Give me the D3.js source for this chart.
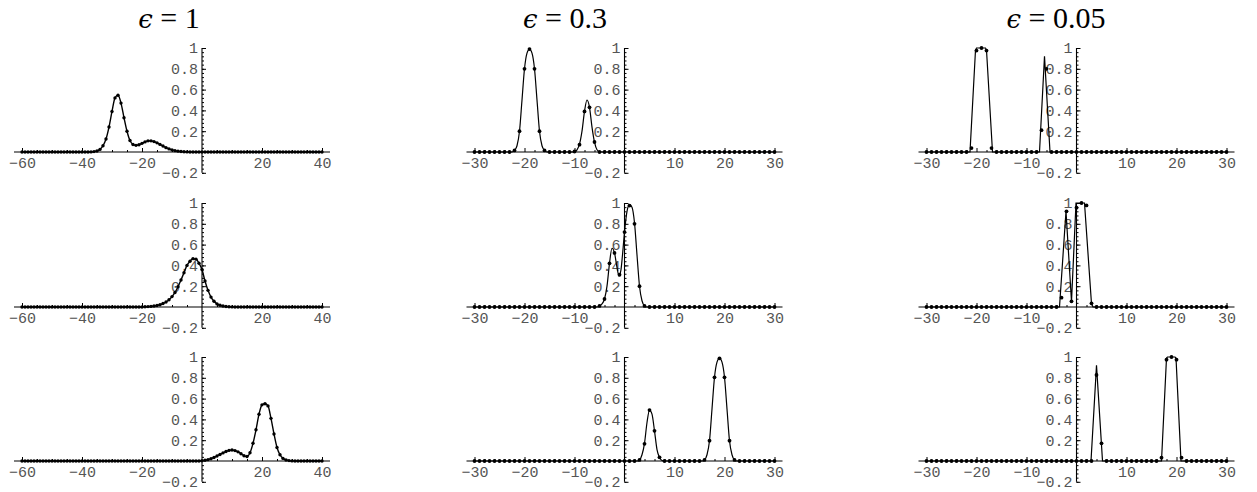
<!DOCTYPE html>
<html>
<head>
<meta charset="utf-8">
<script src="https://cdn.jsdelivr.net/npm/d3@7"></script>
<style>
  body { margin: 0; background: #fff; }
  .tick text { font-family: "Liberation Mono", monospace; font-size: 15px; fill: #555; }
  .title { font-family: "Liberation Serif", serif; font-size: 30px; fill: #000; }
</style>
</head>
<body>
<div id="chart"></div>
<script>
// ---------- data ----------
var epsilons = ["1", "0.3", "0.05"];
var xTicksWide = [-60, -40, -20, 20, 40];
var xTicksNarrow = [-30, -20, -10, 10, 20, 30];
var yTickValues = [-0.2, 0.2, 0.4, 0.6, 0.8, 1];

// dots sit on a unit grid: eps = 1 from x = -60, the others from x = -30
var gridStartWide = -60;
var gridStartNarrow = -30;

var dotsE1Top = [
  0, 0, 0, 0, 0, 0, 0, 0, 0, 0,
  0, 0, 0, 0, 0, 0, 0, 0, 0, 0,
  0, 0, 0, 0.001, 0.004, 0.01, 0.025, 0.06, 0.125, 0.24,
  0.39, 0.52, 0.545, 0.47, 0.33, 0.2, 0.11, 0.072, 0.064, 0.07,
  0.083, 0.097, 0.107, 0.107, 0.1, 0.088, 0.073, 0.057, 0.042, 0.03,
  0.02, 0.013, 0.008, 0.005, 0.003, 0.001, 0, 0, 0, 0,
  0, 0, 0, 0, 0, 0, 0, 0, 0, 0,
  0, 0, 0, 0, 0, 0, 0, 0, 0, 0,
  0, 0, 0, 0, 0, 0, 0, 0, 0, 0,
  0, 0, 0, 0, 0, 0, 0, 0, 0, 0,
  0
];
var dotsE1Mid = [
  0, 0, 0, 0, 0, 0, 0, 0, 0, 0,
  0, 0, 0, 0, 0, 0, 0, 0, 0, 0,
  0, 0, 0, 0, 0, 0, 0, 0, 0, 0,
  0, 0, 0, 0, 0, 0, 0, 0, 0, 0,
  0, 0.002, 0.004, 0.006, 0.01, 0.015, 0.022, 0.033, 0.048, 0.07,
  0.1, 0.14, 0.195, 0.26, 0.33, 0.4, 0.44, 0.465, 0.46, 0.42,
  0.36, 0.25, 0.16, 0.095, 0.055, 0.03, 0.017, 0.009, 0.005, 0.003,
  0.001, 0, 0, 0, 0, 0, 0, 0, 0, 0,
  0, 0, 0, 0, 0, 0, 0, 0, 0, 0,
  0, 0, 0, 0, 0, 0, 0, 0, 0, 0,
  0
];
var dotsE1Bot = [
  0, 0, 0, 0, 0, 0, 0, 0, 0, 0,
  0, 0, 0, 0, 0, 0, 0, 0, 0, 0,
  0, 0, 0, 0, 0, 0, 0, 0, 0, 0,
  0, 0, 0, 0, 0, 0, 0, 0, 0, 0,
  0, 0, 0, 0, 0, 0, 0, 0, 0, 0,
  0, 0, 0, 0, 0, 0, 0, 0, 0, 0,
  0.003, 0.007, 0.013, 0.022, 0.034, 0.048, 0.063, 0.078, 0.092, 0.102,
  0.106, 0.1, 0.088, 0.07, 0.05, 0.043, 0.08, 0.17, 0.3, 0.45,
  0.54, 0.55, 0.53, 0.41, 0.26, 0.13, 0.06, 0.025, 0.01, 0.004,
  0.001, 0, 0, 0, 0, 0, 0, 0, 0, 0,
  0
];

var dotsE03Top = [
  0, 0, 0, 0, 0, 0, 0, 0, 0.015, 0.2,
  0.8, 0.99, 0.8, 0.2, 0.015, 0, 0, 0, 0, 0,
  0.005, 0.07, 0.39, 0.43, 0.096, 0, 0, 0, 0, 0,
  0, 0, 0, 0, 0, 0, 0, 0, 0, 0,
  0, 0, 0, 0, 0, 0, 0, 0, 0, 0,
  0, 0, 0, 0, 0, 0, 0, 0, 0, 0,
  0
];
var dotsE03Mid = [
  0, 0, 0, 0, 0, 0, 0, 0, 0, 0,
  0, 0, 0, 0, 0, 0, 0, 0, 0, 0,
  0, 0, 0, 0, 0, 0.01, 0.077, 0.42, 0.52, 0.31,
  0.72, 0.975, 0.8, 0.2, 0.01, 0, 0, 0, 0, 0,
  0, 0, 0, 0, 0, 0, 0, 0, 0, 0,
  0, 0, 0, 0, 0, 0, 0, 0, 0, 0,
  0
];
var dotsE03Bot = [
  0, 0, 0, 0, 0, 0, 0, 0, 0, 0,
  0, 0, 0, 0, 0, 0, 0, 0, 0, 0,
  0, 0, 0, 0, 0, 0, 0, 0, 0, 0,
  0, 0, 0, 0.01, 0.165, 0.49, 0.29, 0.035, 0, 0,
  0, 0, 0, 0, 0, 0, 0.01, 0.195, 0.805, 0.987,
  0.805, 0.195, 0.01, 0, 0, 0, 0, 0, 0, 0,
  0
];

var dotsE005Top = [
  0, 0, 0, 0, 0, 0, 0, 0, 0, 0.038,
  0.975, 1, 0.975, 0.038, 0, 0, 0, 0, 0, 0,
  0, 0, 0, 0.21, 0.8, 0, 0, 0, 0, 0,
  0, 0, 0, 0, 0, 0, 0, 0, 0, 0,
  0, 0, 0, 0, 0, 0, 0, 0, 0, 0,
  0, 0, 0, 0, 0, 0, 0, 0, 0, 0,
  0
];
var dotsE005Mid = [
  0, 0, 0, 0, 0, 0, 0, 0, 0, 0,
  0, 0, 0, 0, 0, 0, 0, 0, 0, 0,
  0, 0, 0, 0, 0, 0, 0, 0.09, 0.92, 0.055,
  0.955, 1, 0.977, 0.035, 0, 0, 0, 0, 0, 0,
  0, 0, 0, 0, 0, 0, 0, 0, 0, 0,
  0, 0, 0, 0, 0, 0, 0, 0, 0, 0,
  0
];
var dotsE005Bot = [
  0, 0, 0, 0, 0, 0, 0, 0, 0, 0,
  0, 0, 0, 0, 0, 0, 0, 0, 0, 0,
  0, 0, 0, 0, 0, 0, 0, 0, 0, 0,
  0, 0, 0, 0, 0.827, 0.17, 0, 0, 0, 0,
  0, 0, 0, 0, 0, 0, 0, 0.032, 0.974, 1,
  0.974, 0.032, 0, 0, 0, 0, 0, 0, 0, 0,
  0
];

// continuous curves (x, u) for eps = 0.3 and eps = 0.05
var lineE03Top = [[-30, 0], [-22.5, 0], [-22, 0.015], [-21.5, 0.06], [-21, 0.2], [-20.5, 0.5],
  [-20, 0.8], [-19.5, 0.95], [-19, 0.99], [-18.5, 0.95], [-18, 0.8], [-17.5, 0.5], [-17, 0.2],
  [-16.5, 0.06], [-16, 0.015], [-15.5, 0], [-10, 0], [-9.5, 0.02], [-9, 0.075], [-8.5, 0.2],
  [-8, 0.39], [-7.5, 0.5], [-7, 0.43], [-6.5, 0.24], [-6, 0.095], [-5.5, 0.022], [-5, 0.003],
  [-4.5, 0], [30, 0]];
var lineE03Mid = [[-30, 0], [-5.5, 0], [-5, 0.01], [-4.5, 0.03], [-4, 0.077], [-3.5, 0.2],
  [-3, 0.42], [-2.5, 0.565], [-2, 0.52], [-1.5, 0.38], [-1.1, 0.3], [-0.7, 0.36], [-0.4, 0.5],
  [0, 0.72], [0.5, 0.92], [1, 0.985], [1.5, 0.96], [2, 0.81], [2.5, 0.5], [3, 0.2],
  [3.5, 0.06], [4, 0.01], [4.5, 0], [30, 0]];
var lineE03Bot = [[-30, 0], [2.5, 0], [3, 0.01], [3.5, 0.06], [4, 0.17], [4.5, 0.37], [5, 0.49],
  [5.5, 0.45], [6, 0.29], [6.5, 0.11], [7, 0.035], [7.5, 0.005], [8, 0], [15.5, 0], [16, 0.01],
  [16.5, 0.06], [17, 0.195], [17.5, 0.5], [18, 0.805], [18.5, 0.95], [19, 0.99], [19.5, 0.95],
  [20, 0.805], [20.5, 0.5], [21, 0.195], [21.5, 0.06], [22, 0.01], [22.5, 0], [30, 0]];

var lineE005Top = [[-30, 0], [-21.3, 0], [-20.2, 0.98], [-20, 1], [-18.2, 1], [-18, 0.98],
  [-16.8, 0], [-7.4, 0], [-6.4, 0.92], [-5.3, 0], [30, 0]];
var lineE005Mid = [[-30, 0], [-3.4, 0], [-2.1, 0.92], [-1, 0.05], [-0.1, 1], [1.6, 1],
  [3, 0.03], [3.3, 0], [30, 0]];
var lineE005Bot = [[-30, 0], [2.9, 0], [4, 0.92], [5.2, 0], [17, 0], [18, 0.99], [18.2, 1],
  [19.7, 1], [19.9, 0.99], [20.9, 0], [30, 0]];

// ---------- layout ----------
var width = 1257;
var height = 492;
var colZeroX = [202, 624.5, 1076.5];
var colUnit = [3, 5, 5];
var titleX = [169, 565, 1056];
var rowZeroY = [152, 307, 461];
var yUnit = 104;

var columns = [
  { eps: epsilons[0], domain: [-60, 40], ticks: xTicksWide, minorStep: 5, start: gridStartWide,
    dots: [dotsE1Top, dotsE1Mid, dotsE1Bot], lines: null, curve: d3.curveMonotoneX, r: 1.7, lw: 1.4 },
  { eps: epsilons[1], domain: [-30, 30], ticks: xTicksNarrow, minorStep: 2, start: gridStartNarrow,
    dots: [dotsE03Top, dotsE03Mid, dotsE03Bot], lines: [lineE03Top, lineE03Mid, lineE03Bot],
    curve: d3.curveMonotoneX, r: 1.9, lw: 1.2 },
  { eps: epsilons[2], domain: [-30, 30], ticks: xTicksNarrow, minorStep: 2, start: gridStartNarrow,
    dots: [dotsE005Top, dotsE005Mid, dotsE005Bot], lines: [lineE005Top, lineE005Mid, lineE005Bot],
    curve: d3.curveLinear, r: 1.9, lw: 1.2 }
];

var svg = d3
  .select("#chart")
  .append("svg")
  .attr("width", width)
  .attr("height", height);

svg.append("rect").attr("width", width).attr("height", height).attr("fill", "#fff");

function fmt(d) {
  return String(d).replace("-", "\u2212");
}

columns.forEach(function(col, c) {
  // column title
  var title = svg
    .append("text")
    .attr("class", "title")
    .attr("x", titleX[c])
    .attr("y", 28)
    .attr("text-anchor", "middle");
  title
    .append("tspan")
    .style("font-family", "'DejaVu Serif', serif")
    .style("font-style", "italic")
    .style("font-size", "26px")
    .text("\u03f5");
  title.append("tspan").text(" = " + col.eps);

  var xScale = d3
    .scaleLinear()
    .domain(col.domain)
    .range([colZeroX[c] + col.domain[0] * colUnit[c], colZeroX[c] + col.domain[1] * colUnit[c]]);

  var xMinor = d3.range(col.domain[0], col.domain[1] + 0.001, col.minorStep).filter(function(v) {
    return v !== 0 && col.ticks.indexOf(v) < 0;
  });

  rowZeroY.forEach(function(y0, r) {
    var yScale = d3
      .scaleLinear()
      .domain([-0.2, 1])
      .range([y0 + 0.2 * yUnit, y0 - yUnit]);

    var panel = svg.append("g");

    // x axis (ticks pointing up, labels below)
    var xAxis = panel
      .append("g")
      .attr("transform", "translate(0," + y0 + ")");
    xAxis
      .append("line")
      .attr("x1", xScale(col.domain[0]) - 8)
      .attr("x2", xScale(col.domain[1]) + 8)
      .attr("stroke", "#000")
      .attr("stroke-width", 1.1);
    xAxis
      .append("g")
      .call(d3.axisBottom(xScale).tickValues(xMinor).tickFormat("").tickSizeInner(-2).tickSizeOuter(0))
      .call(function(g) { g.select(".domain").remove(); });
    xAxis
      .append("g")
      .call(
        d3.axisBottom(xScale)
          .tickValues(col.ticks)
          .tickFormat(fmt)
          .tickSizeInner(-4)
          .tickSizeOuter(0)
          .tickPadding(5.5)
      )
      .call(function(g) { g.select(".domain").remove(); });

    // y axis (ticks pointing right, labels left)
    var yAxis = panel
      .append("g")
      .attr("transform", "translate(" + xScale(0) + ",0)");
    yAxis
      .append("line")
      .attr("y1", yScale(1))
      .attr("y2", yScale(-0.2))
      .attr("stroke", "#000")
      .attr("stroke-width", 1.1);
    yAxis
      .append("g")
      .call(
        d3.axisLeft(yScale)
          .tickValues(d3.range(-0.2, 1.0001, 0.04).filter(function(v) { return Math.abs(v) > 1e-6; }))
          .tickFormat("")
          .tickSizeInner(-2)
          .tickSizeOuter(0)
      )
      .call(function(g) { g.select(".domain").remove(); });
    yAxis
      .append("g")
      .call(
        d3.axisLeft(yScale)
          .tickValues(yTickValues)
          .tickFormat(fmt)
          .tickSizeInner(-4)
          .tickSizeOuter(0)
          .tickPadding(4)
      )
      .call(function(g) { g.select(".domain").remove(); });

    panel.selectAll(".tick line").attr("stroke", "#000");

    // solution curve and numerical points
    var dots = col.dots[r].map(function(v, i) {
      return [col.start + i, v];
    });
    var lineData = col.lines ? col.lines[r] : dots;

    var line = d3
      .line()
      .x(function(d) { return xScale(d[0]); })
      .y(function(d) { return yScale(d[1]); })
      .curve(col.curve);

    panel
      .append("path")
      .attr("d", line(lineData))
      .attr("fill", "none")
      .attr("stroke", "#000")
      .attr("stroke-width", col.lw);

    panel
      .append("g")
      .selectAll("circle")
      .data(dots)
      .enter()
      .append("circle")
      .attr("cx", function(d) { return xScale(d[0]); })
      .attr("cy", function(d) { return yScale(d[1]); })
      .attr("r", col.r)
      .attr("fill", "#000");
  });
});
</script>
</body>
</html>
